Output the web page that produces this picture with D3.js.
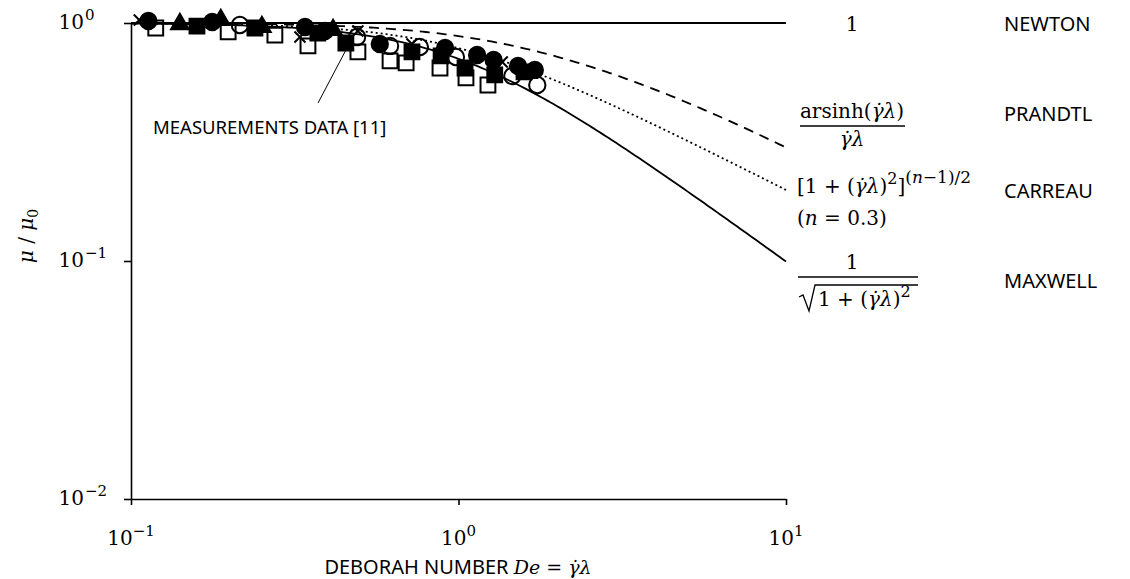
<!DOCTYPE html>
<html>
<head>
<meta charset="utf-8">
<script src="https://cdn.jsdelivr.net/npm/d3@7"></script>
<style>
  body { margin: 0; background: #fff; }
  svg { display: block; }
  .sans { font-family: "Noto Sans", "Open Sans", sans-serif; fill: #000; }
  .math { font-family: "DejaVu Serif", serif; fill: #000; }
  .it { font-style: italic; }
</style>
</head>
<body>
<svg id="chart" width="1130" height="579"></svg>
<script>
// Measured viscosity ratio mu/mu0 against Deborah number De, one array per marker style: [De, mu/mu0]
const filledCircles = [
  [0.113, 1.02], [0.177, 1.01], [0.340, 0.962], [0.391, 0.926], [0.575, 0.816],
  [0.910, 0.785], [1.14, 0.734], [1.28, 0.699], [1.52, 0.660], [1.71, 0.635]
];
const openCircles = [
  [0.215, 0.981], [0.490, 0.873], [0.618, 0.801], [0.762, 0.793],
  [0.982, 0.720], [1.46, 0.599], [1.74, 0.549]
];
const openSquares = [
  [0.119, 0.953], [0.198, 0.917], [0.275, 0.890], [0.347, 0.801], [0.493, 0.756],
  [0.618, 0.693], [0.692, 0.680], [0.878, 0.647], [1.054, 0.588], [1.23, 0.549]
];
const filledSquares = [
  [0.159, 0.971], [0.239, 0.953], [0.372, 0.908], [0.453, 0.824], [0.721, 0.756],
  [0.885, 0.727], [1.047, 0.647], [1.29, 0.605], [1.585, 0.623]
];
const filledTriangles = [
  [0.141, 0.990], [0.188, 1.03], [0.251, 0.962], [0.414, 0.935]
];
const crosses = [
  [0.106, 1.03], [0.328, 0.873], [0.493, 0.926], [0.721, 0.816], [1.36, 0.686]
];

// Axis ticks (powers of ten)
const xTickValues = [0.1, 1, 10];
const xTickExponents = ["\u22121", "0", "1"];
const yTickValues = [1, 0.1, 0.01];
const yTickExponents = ["0", "\u22121", "\u22122"];

// Viscosity models
const nCarreau = 0.3;
const models = [
  { name: "NEWTON",   dash: null,    f: d => 1 },
  { name: "PRANDTL",  dash: "10,7",  f: d => Math.asinh(d) / d },
  { name: "CARREAU",  dash: "2,3",   f: d => Math.pow(1 + d * d, (nCarreau - 1) / 2) },
  { name: "MAXWELL",  dash: null,    f: d => 1 / Math.sqrt(1 + d * d) }
];

const svg = d3.select("#chart");
const x = d3.scaleLog().domain([0.1, 10]).range([131, 786]);
const y = d3.scaleLog().domain([0.01, 1]).range([499, 23]);

// Axes
const axisY = svg.append("g").attr("transform", `translate(${x(0.1)},0)`)
  .call(d3.axisLeft(y).tickValues(yTickValues).tickFormat("").tickSize(7).tickSizeOuter(0));
const axisX = svg.append("g").attr("transform", `translate(0,${y(0.01)})`)
  .call(d3.axisBottom(x).tickValues(xTickValues).tickFormat("").tickSize(6).tickSizeOuter(0));
[axisY, axisX].forEach(g => {
  g.selectAll("path,line").attr("stroke", "#000").attr("stroke-width", 1.6);
});

// Tick labels as 10 with superscript exponent
yTickValues.forEach((v, i) => {
  svg.append("text").attr("class", "math").attr("font-size", 20)
    .attr("x", 84).attr("y", y(v) + 6).attr("text-anchor", "end").text("10");
  svg.append("text").attr("class", "math").attr("font-size", 15)
    .attr("x", 85).attr("y", y(v) - 3).text(yTickExponents[i]);
});
xTickValues.forEach((v, i) => {
  const g = svg.append("text").attr("class", "math")
    .attr("x", x(v)).attr("y", 545).attr("text-anchor", "middle");
  g.append("tspan").attr("font-size", 20).text("10");
  g.append("tspan").attr("font-size", 15).attr("dy", -9).text(xTickExponents[i]);
});

// Model curves
const deSamples = d3.range(0, 201).map(i => Math.pow(10, -1 + i * 0.01));
const line = d3.line().x(d => x(d[0])).y(d => y(d[1]));
models.forEach(m => {
  svg.append("path")
    .datum(deSamples.map(d => [d, m.f(d)]))
    .attr("d", line)
    .attr("fill", "none").attr("stroke", "#000").attr("stroke-width", 1.8)
    .attr("stroke-dasharray", m.dash);
});

// Measurement markers
const circle = d3.symbol().type(d3.symbolCircle).size(210);
const square = d3.symbol().type(d3.symbolSquare).size(220);
const triangle = d3.symbol().type(d3.symbolTriangle).size(135);
const xMark = "M-5.5,-5.5L5.5,5.5M-5.5,5.5L5.5,-5.5";

function drawSeries(data, path, filled) {
  svg.append("g").selectAll("path").data(data).join("path")
    .attr("transform", d => `translate(${x(d[0])},${y(d[1])})`)
    .attr("d", path)
    .attr("fill", filled ? "#000" : "none")
    .attr("stroke", "#000").attr("stroke-width", 2);
}
drawSeries(openSquares, square(), false);
drawSeries(openCircles, circle(), false);
drawSeries(crosses, xMark, false);
drawSeries(filledTriangles, triangle(), true);
drawSeries(filledSquares, square(), true);
drawSeries(filledCircles, circle(), true);

// Annotation for the measured data
svg.append("line").attr("x1", 318).attr("y1", 103).attr("x2", 347).attr("y2", 48)
  .attr("stroke", "#000").attr("stroke-width", 1);
svg.append("text").attr("class", "sans").attr("font-size", 18.5)
  .attr("x", 153).attr("y", 134).text("MEASUREMENTS DATA [11]");

// Axis titles
const xt = svg.append("text").attr("class", "sans").attr("x", 458).attr("y", 574)
  .attr("text-anchor", "middle");
xt.append("tspan").attr("font-size", 20).text("DEBORAH NUMBER ");
xt.append("tspan").attr("class", "math it").attr("font-size", 19).text("De");
xt.append("tspan").attr("class", "math").attr("font-size", 19).text(" = ");
xt.append("tspan").attr("class", "math it").attr("font-size", 19).text("\u03B3\u0307\u03BB");

const yt = svg.append("text").attr("class", "math")
  .attr("transform", "translate(33,236) rotate(-90)").attr("text-anchor", "middle");
yt.append("tspan").attr("class", "it").attr("font-size", 20).text("\u03BC");
yt.append("tspan").attr("font-size", 20).text(" / ");
yt.append("tspan").attr("class", "it").attr("font-size", 20).text("\u03BC");
yt.append("tspan").attr("font-size", 14).attr("dy", 5).text("0");

// Model formulas and names
const gl = "\u03B3\u0307\u03BB";
function mathText(xPos, yPos, anchor) {
  return svg.append("text").attr("class", "math").attr("font-size", 20)
    .attr("x", xPos).attr("y", yPos).attr("text-anchor", anchor || "start");
}
// Newton
mathText(852, 31, "middle").text("1");
// Prandtl
const pn = mathText(852, 118, "middle");
pn.append("tspan").text("arsinh(");
pn.append("tspan").attr("class", "it").text(gl);
pn.append("tspan").text(")");
svg.append("line").attr("x1", 800).attr("x2", 905).attr("y1", 126).attr("y2", 126)
  .attr("stroke", "#000").attr("stroke-width", 1.3);
mathText(852, 146, "middle").attr("class", "math it").text(gl);
// Carreau
const cr = mathText(797, 193);
cr.append("tspan").text("[1 + (");
cr.append("tspan").attr("class", "it").text(gl);
cr.append("tspan").text(")");
cr.append("tspan").attr("font-size", 16).attr("dy", -9).text("2");
cr.append("tspan").attr("dy", 9).text("]");
cr.append("tspan").attr("font-size", 17).attr("dy", -10).text("(");
cr.append("tspan").attr("font-size", 17).attr("class", "it").text("n");
cr.append("tspan").attr("font-size", 17).text("\u22121)/2");
const cn = mathText(797, 225);
cn.append("tspan").text("(");
cn.append("tspan").attr("class", "it").text("n");
cn.append("tspan").text(" = " + nCarreau + ")");
// Maxwell
mathText(852, 269, "middle").text("1");
svg.append("line").attr("x1", 798).attr("x2", 918).attr("y1", 277).attr("y2", 277)
  .attr("stroke", "#000").attr("stroke-width", 1.3);
svg.append("path").attr("d", "M799,297L803,295L809,311L815,285L918,285")
  .attr("fill", "none").attr("stroke", "#000").attr("stroke-width", 1.3);
const md = mathText(818, 306);
md.append("tspan").text("1 + (");
md.append("tspan").attr("class", "it").text(gl);
md.append("tspan").text(")");
md.append("tspan").attr("font-size", 16).attr("dy", -9).text("2");

// Model names
const nameY = [31, 121, 198, 288];
models.forEach((m, i) => {
  svg.append("text").attr("class", "sans").attr("font-size", 20)
    .attr("x", 1004).attr("y", nameY[i]).text(m.name);
});
</script>
</body>
</html>
